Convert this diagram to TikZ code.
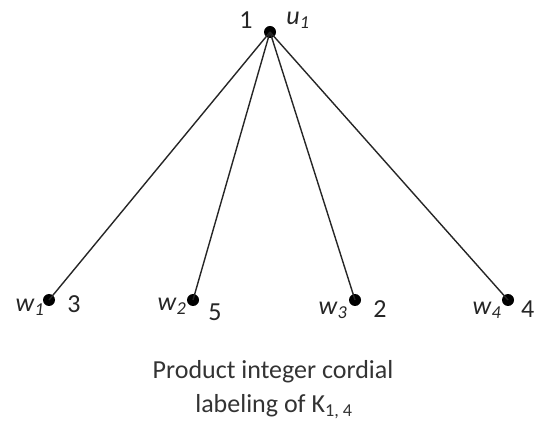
\documentclass[tikz,border=0pt]{standalone}
\usepackage{fontspec}
\setmainfont{Carlito}
\begin{document}
\begin{tikzpicture}[x=1pt,y=-1pt,
  vtx/.style={circle,fill=black,inner sep=0pt,minimum size=12pt},
  lbl/.style={inner sep=0pt,text=black!85,font=\fontsize{26}{30}\selectfont},
  captxt/.style={inner sep=0pt,text=black!80,font=\fontsize{26}{30}\selectfont},
  edge/.style={line width=1.4pt,draw=black!85}]
\useasboundingbox (0,0) rectangle (535,427);
\node[vtx] (u) at (270,32) {};
\node[vtx] (w1) at (49,300) {};
\node[vtx] (w2) at (193,300) {};
\node[vtx] (w3) at (355,300) {};
\node[vtx] (w4) at (508,300) {};
\draw[edge] (u.center) -- (w1.center);
\draw[edge] (u.center) -- (w2.center);
\draw[edge] (u.center) -- (w3.center);
\draw[edge] (u.center) -- (w4.center);
\node[lbl] (lu) at (246,20) {1};
\node[lbl] (nu) at (298,20) {\textit{u}\textsubscript{\textit{1}}};
\node[lbl] (n1) at (30,307) {\textit{w}\textsubscript{\textit{1}}};
\node[lbl] (l1) at (74,304) {3};
\node[lbl] (n2) at (172,306) {\textit{w}\textsubscript{\textit{2}}};
\node[lbl] (l2) at (215,312) {5};
\node[lbl] (n3) at (333,310) {\textit{w}\textsubscript{\textit{3}}};
\node[lbl] (l3) at (380,309) {2};
\node[lbl] (n4) at (487,310) {\textit{w}\textsubscript{\textit{4}}};
\node[lbl,anchor=east] (l4) at (534.5,309) {4};
\node[captxt] (c1) at (273,372) {Product integer cordial};
\node[captxt] (c2) at (274,407) {labeling of K\textsubscript{1, 4}};
\end{tikzpicture}
\end{document}
